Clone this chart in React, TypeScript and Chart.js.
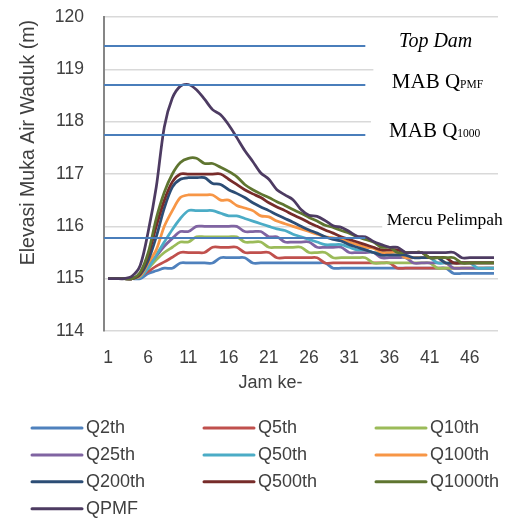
import { useEffect, useRef } from "react";
import { Chart, registerables } from "chart.js";

Chart.register(...registerables);

// ---------- data ----------
const hours = [
  "1", "2", "3", "4", "5", "6", "7", "8", "9", "10",
  "11", "12", "13", "14", "15", "16", "17", "18", "19", "20",
  "21", "22", "23", "24", "25", "26", "27", "28", "29", "30",
  "31", "32", "33", "34", "35", "36", "37", "38", "39", "40",
  "41", "42", "43", "44", "45", "46", "47", "48", "49",
];
const TICK_STEP = 5;
const yTicks = [114, 115, 116, 117, 118, 119, 120];

const q2 = [115, 115, 115, 115, 115, 115.1, 115.15, 115.2, 115.2, 115.3,
  115.3, 115.3, 115.3, 115.3, 115.4, 115.4, 115.4, 115.4, 115.3, 115.3,
  115.3, 115.3, 115.3, 115.3, 115.3, 115.3, 115.3, 115.3, 115.2, 115.2,
  115.2, 115.2, 115.2, 115.2, 115.2, 115.2, 115.2, 115.2, 115.2, 115.2,
  115.2, 115.2, 115.2, 115.1, 115.1, 115.1, 115.1, 115.1, 115.1];
const q5 = [115, 115, 115, 115, 115.05, 115.14, 115.24, 115.32, 115.41, 115.5,
  115.5, 115.5, 115.5, 115.6, 115.6, 115.6, 115.6, 115.5, 115.5, 115.5,
  115.5, 115.4, 115.4, 115.4, 115.4, 115.4, 115.4, 115.3, 115.3, 115.3,
  115.3, 115.3, 115.3, 115.3, 115.3, 115.3, 115.2, 115.2, 115.2, 115.2,
  115.2, 115.2, 115.2, 115.2, 115.2, 115.2, 115.2, 115.2, 115.2];
const q10 = [115, 115, 115, 115, 115.08, 115.2, 115.36, 115.5, 115.6, 115.7,
  115.7, 115.8, 115.8, 115.8, 115.8, 115.8, 115.8, 115.7, 115.7, 115.7,
  115.6, 115.6, 115.6, 115.6, 115.6, 115.5, 115.5, 115.5, 115.4, 115.4,
  115.4, 115.4, 115.4, 115.3, 115.3, 115.3, 115.3, 115.3, 115.3, 115.3,
  115.3, 115.2, 115.2, 115.2, 115.2, 115.2, 115.2, 115.2, 115.2];
const q25 = [115, 115, 115, 115, 115.05, 115.25, 115.43, 115.62, 115.77, 115.9,
  115.9, 116, 116, 116, 116, 116, 116, 115.9, 115.9, 115.9,
  115.8, 115.8, 115.7, 115.7, 115.7, 115.7, 115.6, 115.6, 115.6, 115.6,
  115.5, 115.5, 115.5, 115.5, 115.4, 115.4, 115.4, 115.4, 115.3, 115.3,
  115.3, 115.3, 115.3, 115.2, 115.2, 115.2, 115.2, 115.2, 115.2];
const q50 = [115, 115, 115, 115, 115.03, 115.2, 115.45, 115.7, 115.94, 116.15,
  116.3, 116.3, 116.3, 116.3, 116.25, 116.2, 116.2, 116.15, 116.1, 116.05,
  116, 115.95, 115.92, 115.85, 115.8, 115.75, 115.7, 115.65, 115.65, 115.65,
  115.6, 115.55, 115.55, 115.5, 115.5, 115.5, 115.5, 115.4, 115.4, 115.4,
  115.4, 115.3, 115.3, 115.3, 115.3, 115.3, 115.2, 115.2, 115.2];
const q100 = [115, 115, 115, 115, 115.05, 115.3, 115.55, 116, 116.3, 116.55,
  116.6, 116.6, 116.6, 116.6, 116.5, 116.5, 116.4, 116.35, 116.3, 116.2,
  116.18, 116.1, 116.05, 116, 115.95, 115.9, 115.85, 115.8, 115.78, 115.75,
  115.7, 115.65, 115.6, 115.58, 115.5, 115.5, 115.5, 115.4, 115.4, 115.4,
  115.4, 115.4, 115.3, 115.3, 115.3, 115.3, 115.3, 115.3, 115.3];
const q200 = [115, 115, 115, 115, 115.08, 115.35, 115.8, 116.35, 116.75, 116.9,
  116.93, 116.93, 116.93, 116.82, 116.8, 116.7, 116.63, 116.55, 116.45, 116.37,
  116.3, 116.22, 116.15, 116.08, 116, 115.93, 115.87, 115.8, 115.75, 115.72,
  115.65, 115.6, 115.55, 115.5, 115.45, 115.45, 115.45, 115.45, 115.4, 115.4,
  115.4, 115.4, 115.3, 115.3, 115.3, 115.3, 115.3, 115.3, 115.3];
const q500 = [115, 115, 115, 115, 115.1, 115.45, 116, 116.5, 116.85, 117,
  117, 117, 117, 117, 117, 116.9, 116.8, 116.7, 116.62, 116.55,
  116.45, 116.37, 116.3, 116.22, 116.15, 116.07, 116, 115.93, 115.87, 115.8,
  115.75, 115.7, 115.65, 115.6, 115.55, 115.55, 115.55, 115.5, 115.5, 115.5,
  115.4, 115.4, 115.4, 115.3, 115.3, 115.3, 115.3, 115.3, 115.3];
const q1000 = [115, 115, 115, 115, 115.12, 115.5, 116.15, 116.65, 117, 117.22,
  117.3, 117.3, 117.2, 117.2, 117.13, 117.05, 116.95, 116.8, 116.7, 116.62,
  116.55, 116.47, 116.4, 116.32, 116.25, 116.17, 116.1, 116.02, 115.98, 115.92,
  115.87, 115.8, 115.75, 115.7, 115.6, 115.6, 115.5, 115.5, 115.5, 115.5,
  115.4, 115.4, 115.4, 115.4, 115.3, 115.3, 115.3, 115.3, 115.3];
const qpmf = [115, 115, 115, 115.05, 115.25, 115.9, 116.75, 117.9, 118.45, 118.68,
  118.71, 118.61, 118.43, 118.23, 118.13, 117.94, 117.7, 117.45, 117.24, 117.02,
  116.9, 116.7, 116.6, 116.51, 116.32, 116.21, 116.19, 116.11, 116.01, 115.98,
  115.9, 115.81, 115.8, 115.71, 115.65, 115.6, 115.6, 115.5, 115.5, 115.5,
  115.5, 115.5, 115.5, 115.5, 115.4, 115.4, 115.4, 115.4, 115.4];

const seriesNames = ["Q2th", "Q5th", "Q10th", "Q25th", "Q50th", "Q100th", "Q200th", "Q500th", "Q1000th", "QPMF"];
const seriesValues = [q2, q5, q10, q25, q50, q100, q200, q500, q1000, qpmf];
const seriesColors = ["#4F81BD", "#C0504D", "#9BBB59", "#8064A2", "#4BACC6", "#F79646", "#2C4D75", "#772C2A", "#5F7530", "#4D3B62"];

// reference levels (m) and their labels
const refLevels = [119.45, 118.7, 117.75, 115.77];
const refEndIndex = 32; // lines run to hour 33
const refLabelMain = ["Top Dam", "MAB Q", "MAB Q", "Mercu Pelimpah"];
const refLabelSub = ["", "PMF", "1000", ""];
const refLabelItalic = [true, false, false, false];
const refLabelSize = [20, 21, 21, 17.5];
const refLabelX = [36.2, 35.3, 34.95, 34.66]; // category index of text start
const refLabelY = [119.43, 118.64, 117.7, 116.02]; // baseline value
// white boxes behind labels: [x index start, top value, bottom value]
const refBoxX = [35.5, 33.0, 32.7, 34.1];
const refBoxTop = [119.8, 119.18, 118.19, 116.39];
const refBoxBottom = [119.2, 118.42, 117.54, 115.9];

const yTitle = "Elevasi Muka Air Waduk (m)";
const xTitle = "Jam ke-";

const SANS = "'Liberation Sans', Arial, sans-serif";
const SERIF = "'Liberation Serif', 'Times New Roman', serif";
const TEXT = "#404040";

const overlayPlugin = {
  id: "overlay",
  beforeDatasetsDraw(chart: any) {
    const { ctx, scales, width } = chart;
    const xs = scales.x, ys = scales.y;
    ctx.save();
    ctx.fillStyle = "#ffffff";
    refBoxX.forEach((bx, i) => {
      const x0 = xs.getPixelForValue(bx);
      const y0 = ys.getPixelForValue(refBoxTop[i]);
      const y1 = ys.getPixelForValue(refBoxBottom[i]);
      ctx.fillRect(x0, y0, width - x0, y1 - y0);
    });
    ctx.restore();
  },
  afterDatasetsDraw(chart: any) {
    const { ctx, scales, chartArea } = chart;
    const xs = scales.x, ys = scales.y;
    ctx.save();
    ctx.strokeStyle = "#4A7EBB";
    ctx.lineWidth = 2;
    refLevels.forEach((lv) => {
      const y = Math.round(ys.getPixelForValue(lv));
      ctx.beginPath();
      ctx.moveTo(chartArea.left, y);
      ctx.lineTo(xs.getPixelForValue(refEndIndex), y);
      ctx.stroke();
    });
    ctx.restore();
  },
  afterDraw(chart: any) {
    const { ctx, scales, chartArea } = chart;
    const xs = scales.x, ys = scales.y;
    ctx.save();
    // reference labels
    ctx.fillStyle = "#000000";
    ctx.textBaseline = "alphabetic";
    ctx.textAlign = "left";
    refLabelMain.forEach((t, i) => {
      const x = xs.getPixelForValue(refLabelX[i]);
      const y = ys.getPixelForValue(refLabelY[i]);
      ctx.font = `${refLabelItalic[i] ? "italic " : ""}${refLabelSize[i]}px ${SERIF}`;
      ctx.fillText(t, x, y);
      if (refLabelSub[i]) {
        const w = ctx.measureText(t).width;
        ctx.font = `11.5px ${SERIF}`;
        ctx.fillText(refLabelSub[i], x + w, y);
      }
    });

    // axis titles
    ctx.fillStyle = TEXT;
    ctx.font = `19.5px ${SANS}`;
    ctx.textAlign = "center";
    ctx.save();
    ctx.translate(chartArea.left - 70.5, ys.getPixelForValue(117.6));
    ctx.rotate(-Math.PI / 2);
    ctx.fillText(yTitle, 0, 0);
    ctx.restore();

    ctx.font = `18px ${SANS}`;
    ctx.textBaseline = "middle";
    ctx.fillText(xTitle, xs.getPixelForValue(20.2), chartArea.bottom + 52);

    // legend
    const colX = [32, 204, 376];
    const rowY0 = chartArea.bottom + 97;
    const rowH = 26.9;
    ctx.textAlign = "left";
    ctx.textBaseline = "middle";
    ctx.font = `18px ${SANS}`;
    seriesNames.forEach((name, i) => {
      const col = i % 3;
      const row = Math.floor(i / 3);
      const x = colX[col];
      const y = rowY0 + row * rowH;
      ctx.strokeStyle = seriesColors[i];
      ctx.lineWidth = 3;
      ctx.lineCap = "round";
      ctx.beginPath();
      ctx.moveTo(x, y);
      ctx.lineTo(x + 50, y);
      ctx.stroke();
      ctx.fillStyle = TEXT;
      ctx.fillText(name, x + 54, y);
    });
    ctx.restore();
  },
};

export default function App() {
  const ref = useRef<HTMLCanvasElement | null>(null);
  useEffect(() => {
    document.body.style.margin = "0";
    const canvas = ref.current;
    if (!canvas) return;
    const chart = new Chart(canvas, {
      type: "line",
      data: {
        labels: hours,
        datasets: seriesNames.map((name, i) => ({
          label: name,
          data: seriesValues[i],
          borderColor: seriesColors[i],
          backgroundColor: seriesColors[i],
          borderWidth: 2.75,
          pointRadius: 0,
          pointHoverRadius: 0,
          tension: 0.3,
          fill: false,
          order: -i,
        })),
      },
      options: {
        responsive: false,
        animation: false,
        events: [],
        layout: { padding: { left: 0, right: 10, top: 17, bottom: 129 } },
        plugins: { legend: { display: false }, tooltip: { enabled: false }, title: { display: false } },
        scales: {
          x: {
            type: "category",
            offset: true,
            grid: { display: false, drawTicks: false },
            border: { display: false },
            ticks: {
              autoSkip: false,
              maxRotation: 0,
              minRotation: 0,
              padding: 17,
              color: TEXT,
              font: { family: SANS, size: 17.5 },
              callback: (_v: any, i: number) => (i % TICK_STEP === 0 ? hours[i] : ""),
            },
            afterFit: (s: any) => {
              s.height = 60;
              s.paddingLeft = 0;
              s.paddingRight = 0;
            },
          },
          y: {
            min: yTicks[0],
            max: yTicks[yTicks.length - 1],
            afterBuildTicks: (s: any) => {
              s.ticks = yTicks.map((v) => ({ value: v }));
            },
            ticks: {
              padding: 20,
              color: TEXT,
              font: { family: SANS, size: 17.5 },
            },
            grid: { color: "#d9d9d9", lineWidth: 1.5, drawTicks: false },
            border: { display: true, color: "#868686", width: 2 },
            afterFit: (s: any) => {
              s.width = 104;
              s.paddingTop = 0;
              s.paddingBottom = 0;
            },
          },
        },
      },
      plugins: [overlayPlugin],
    });
    return () => chart.destroy();
  }, []);
  return (
    <div style={{ width: 508, height: 520 }}>
      <canvas ref={ref} width={508} height={520} style={{ width: 508, height: 520, display: "block" }} />
    </div>
  );
}
